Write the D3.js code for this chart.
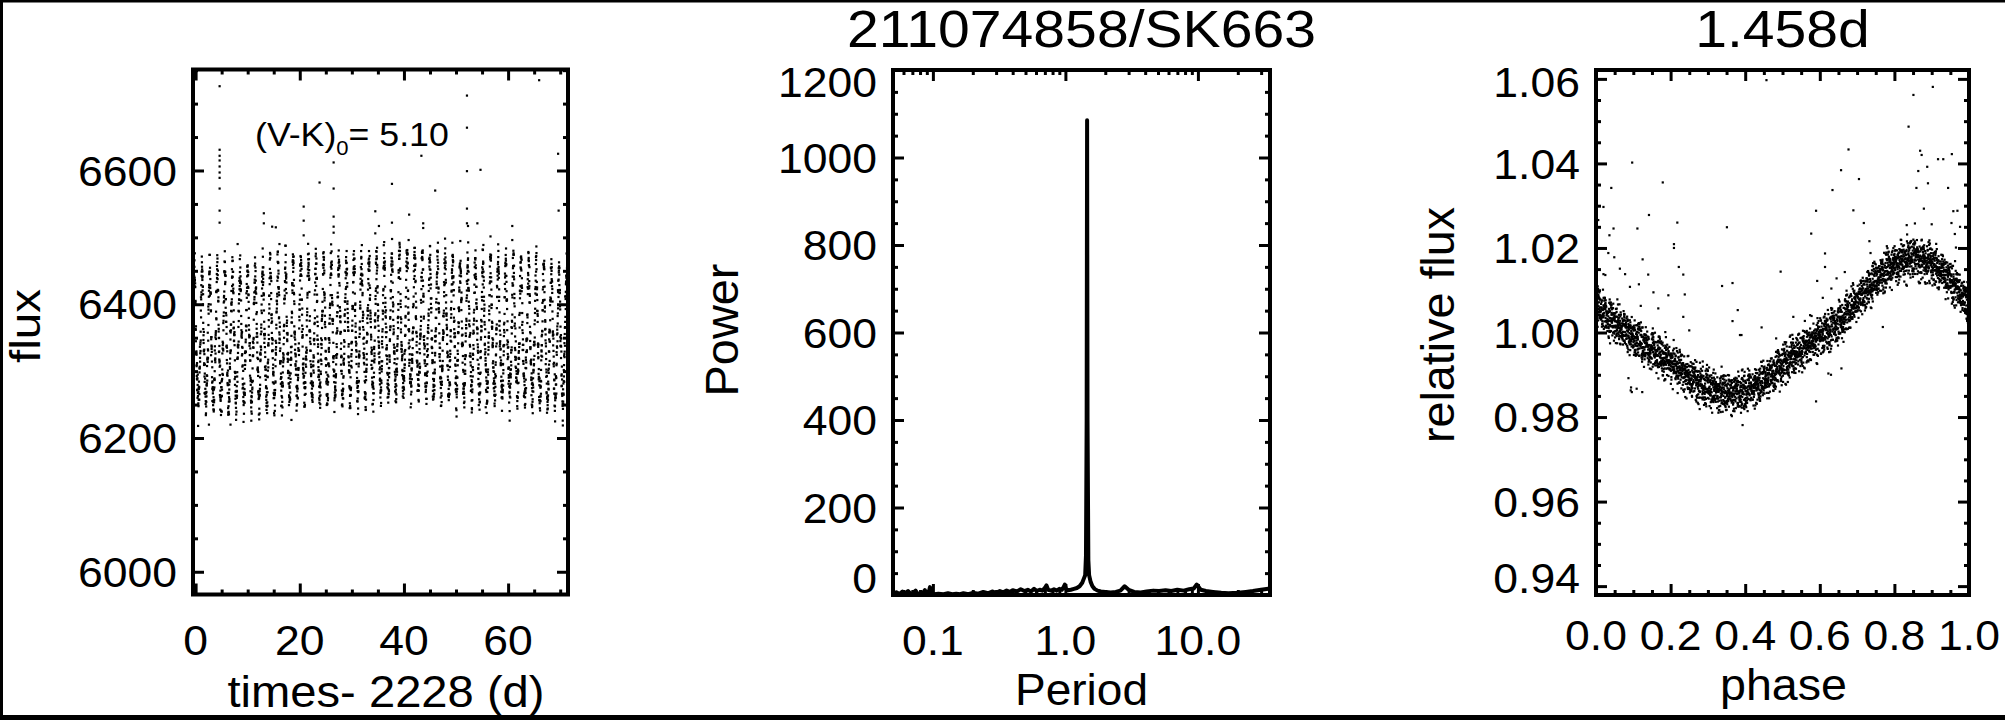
<!DOCTYPE html>
<html><head><meta charset="utf-8">
<script src="https://cdn.jsdelivr.net/npm/d3@7"></script>
<style>
body{margin:0;background:#fff}
text{font-family:"Liberation Sans",Arial,Helvetica,sans-serif;fill:#000}
</style>
</head><body>
<svg id="c" width="2005" height="720"></svg>
<script>
// ---------------- data ----------------
const rotPeriod = 1.458;          // days
const cadence = 0.02043;          // days (30 min)
const tFirst = -0.40, tLast = 71.40;
const lcTrendT = [0, 10, 20, 30, 40, 50, 60, 71];
const lcTrendF = [6338, 6345, 6350, 6356, 6360, 6358, 6352, 6342];
const tmplPhase = [0,0.05,0.1,0.15,0.2,0.25,0.3,0.35,0.4,0.45,0.5,0.55,0.6,0.65,0.7,0.75,0.8,0.85,0.9,0.95,1.0];
const tmplFlux  = [1.0064,1.0022,0.9990,0.9958,0.9930,0.9895,0.9868,0.9856,0.9860,0.9883,0.9923,0.9958,0.9990,1.0021,1.0076,1.0124,1.0163,1.0179,1.0163,1.0124,1.0064];
const residA = [0.4,-1.2,2.1,-0.3,1.5,-2.4,0.8,-0.6,1.9,-1.7,0.1,2.8,-0.9,-2.0,1.1,0.5,-1.4,3.1,-0.2,-2.9,1.3,0.7,-1.0,2.4,-0.5,-1.8,0.2,1.7,-2.6,0.9,-0.1,1.4,-1.5,2.2,-0.8,-0.4,3.4,-2.2,0.6,1.0,-1.1,-3.2,1.8,0.3,-0.7,2.6,-1.9,0.0,1.2,-2.5,0.9,-1.3,2.0,-0.6,1.6,-2.1,0.5,-3.0,2.3,-0.3,1.1];
const residB = [-0.8,1.9,-2.3,0.6,1.2,-0.4,2.7,-1.6,0.2,-1.1,1.5,-2.8,0.9,0.3,-1.9,2.2,-0.6,1.0,-0.2,-2.5,1.7,0.4,-1.3,2.9,-0.9,0.7,-1.7,1.3,-0.1,2.0,-2.1,0.8,-0.5,1.6,-3.1,0.5,-1.0];
// outliers
const lcOutT = [4.61,65.96,52.1,4.61,4.61,4.61,4.61,4.61,4.61,4.61,26.5,52.1,43.35,69.6,52.1,54.7,23.8,26.5,37.7,46.0,4.61,4.61,13.1,20.75,20.75,20.75,13.1,14.7,15.4,26.5,26.5,26.5,34.5,34.5,35.2,37.7,41.0,43.7,43.7,52.1,52.1,52.3,54.1,60.8,60.8,69.7,8.07,16.1,49.3,40.9,18.4,55.7,60.3,6.7,2.56];
const lcOutF = [6726,6735,6712,6631,6622,6615,6606,6597,6589,6573,6612,6664,6622,6625,6599,6601,6582,6573,6580,6570,6540,6522,6536,6546,6525,6503,6521,6516,6515,6516,6507,6531,6539,6506,6517,6522,6534,6521,6514,6543,6521,6517,6521,6517,6496,6540,6490,6490,6492,6496,6227,6246,6226,6220,6220];
// outliers
const phOutP = [0.457,0.851,0.903,0.838,0.097,0.677,0.869,0.873,0.954,0.917,0.931,0.657,0.888,0.864,0.179,0.705,0.041,0.859,0.89,0.944,0.634,0.02,0.59,0.69,0.879,0.958,0.969,0.142,0.718,0.218,0.006,0.833,0.855,0.9,0.953,0.976,0.351,0.111,0.047,0.577,0.036,0.733,0.962,0.209,0.209,0.033,0.614,0.736,0.049,0.125,0.222,0.965,0.614,0.064,0.495,0.667,0.234,0.02,0.025,0.14,0.078,0.645,0.366,0.338,0.593,0.631,0.115,0.091,0.154,0.194,0.238,0.608,0.38,0.12,0.167,0.529,0.366,0.234,0.444,0.386,0.39,0.483,0.25,0.574,0.578,0.769,0.658,0.623,0.63,0.59,0.096,0.109,0.124,0.087,0.093,0.094,0.393];
const phOutF = [1.0597,1.0562,1.0581,1.0487,1.0402,1.0433,1.0430,1.0420,1.0422,1.0410,1.0410,1.0384,1.0392,1.0382,1.0355,1.0363,1.0342,1.0342,1.0353,1.0342,1.0337,1.0297,1.0288,1.0289,1.0293,1.0287,1.0288,1.0278,1.0259,1.0260,1.0266,1.0254,1.0258,1.0256,1.0259,1.0250,1.0249,1.0246,1.0246,1.0234,1.0230,1.0216,1.0233,1.0209,1.0200,1.0188,1.0187,1.0188,1.0178,1.0173,1.0155,1.0201,1.0155,1.0151,1.0144,1.0143,1.0137,1.0138,1.0136,1.0137,1.0138,1.0128,1.0117,1.0110,1.0122,1.0104,1.0114,1.0108,1.0095,1.0088,1.0090,1.0082,1.0053,1.0063,1.0057,1.0037,1.0027,1.0037,1.0012,0.9994,0.9994,0.9986,1.0005,1.0041,1.0039,1.0013,0.9915,0.9903,0.9900,0.9837,0.9859,0.9867,0.9859,0.9892,0.9863,0.9870,0.9781];
// Lomb-Scargle periodogram
const pgPeriod = [0.050,0.053,0.056,0.059,0.062,0.065,0.068,0.071,0.074,0.077,0.080,0.083,0.087,0.090,0.093,0.095,0.098,0.102,0.11,0.12,0.13,0.14,0.15,0.16,0.17,0.185,0.2,0.22,0.24,0.26,0.28,0.30,0.32,0.34,0.36,0.38,0.40,0.43,0.46,0.49,0.52,0.55,0.58,0.61,0.64,0.67,0.70,0.72,0.74,0.78,0.82,0.86,0.90,0.94,0.97,0.99,1.01,1.05,1.10,1.16,1.22,1.28,1.34,1.38,1.41,1.43,1.447,1.458,1.469,1.49,1.51,1.55,1.60,1.66,1.75,1.85,2.0,2.2,2.4,2.6,2.8,3.0,3.3,3.7,4.1,4.6,5.1,5.7,6.3,7.0,7.8,8.6,9.3,9.8,10.5,11.5,13,15,17,20,23,26,30,35];
const pgPower  = [2,6,2,8,3,9,2,5,10,2,4,2,11,3,6,18,4,2,3,2,4,2,3,2,4,2,5,3,7,4,8,5,9,6,10,7,11,8,13,9,12,8,14,9,12,10,16,22,12,10,13,10,14,12,18,24,14,11,12,14,16,20,28,38,45,90,400,1085,400,80,45,30,20,14,10,8,7,6,7,10,20,12,7,6,8,10,9,11,9,12,10,13,15,24,12,9,7,5,4,5,7,9,12,15];
// axis ticks
const lcXMajor = [0,20,40,60], lcYMajor = [6000,6200,6400,6600];
const pgXMajor = [0.1,1,10], pgXLabels = ["0.1","1.0","10.0"], pgYMajor = [0,200,400,600,800,1000,1200];
const phXMajor = [0,0.2,0.4,0.6,0.8,1.0], phYMajor = [0.94,0.96,0.98,1.00,1.02,1.04,1.06];
const titleMid = "211074858/SK663", titleRight = "1.458d";

// ---------------- build series ----------------
const tmpl = d3.scaleLinear().domain(tmplPhase).range(tmplFlux);
const trend = d3.scaleLinear().domain(lcTrendT).range(lcTrendF).clamp(true);
const series = [];
const nPts = Math.floor((tLast - tFirst) / cadence);
for (let i = 0; i <= nPts; i++) {
  const t = tFirst + i * cadence;
  const ph = ((t / rotPeriod) % 1 + 1) % 1;
  const rel = tmpl(ph) + 0.001 * (residA[(i * 7) % residA.length] + residB[(i * 5) % residB.length]);
  series.push({t, ph, rel, flux: trend(t) * rel});
}

// ---------------- drawing ----------------
const svg = d3.select("#c");
const FS = 42, SX = 1.06;
svg.append("rect").attr("width",2005).attr("height",720).attr("fill","#fff");
svg.append("path").attr("d","M1.5,718 L1.5,1 L2005,1").attr("fill","none").attr("stroke","#000").attr("stroke-width",3);
svg.append("line").attr("x1",0).attr("x2",2005).attr("y1",717.5).attr("y2",717.5).attr("stroke","#000").attr("stroke-width",5);

function txt(x, y, s, o = {}) {
  const t = svg.append("text")
    .attr("transform", `translate(${x},${y})${o.rot ? " rotate(-90)" : ""} scale(${o.sx || 1},1)`)
    .attr("text-anchor", o.anchor || "middle").attr("font-size", o.fs || FS);
  if (o.dy) t.attr("dy", o.dy);
  if (o.len) t.attr("textLength", o.len).attr("lengthAdjust", "spacingAndGlyphs");
  t.text(s);
  return t;
}
function panel(b, x, y, xMaj, xMin, yMaj, yMin) {
  const g = svg.append("g");
  const tk = (axisFn, scale, vals, size, tr) => {
    const a = axisFn(scale).tickValues(vals).tickSize(size).tickFormat("");
    const gg = g.append("g").attr("transform", tr).call(a);
    gg.select(".domain").remove();
    gg.selectAll("line").attr("stroke","#000").attr("stroke-width",3);
  };
  [[xMaj,-11],[xMin,-5]].forEach(([v,s]) => {
    tk(d3.axisBottom, x, v, s, `translate(0,${b.y1})`);
    tk(d3.axisTop, x, v, s, `translate(0,${b.y0})`);
  });
  [[yMaj,-11],[yMin,-5]].forEach(([v,s]) => {
    tk(d3.axisLeft, y, v, s, `translate(${b.x0},0)`);
    tk(d3.axisRight, y, v, s, `translate(${b.x1},0)`);
  });
  return g;
}
function frame(b) {
  svg.append("rect").attr("x",b.x0).attr("y",b.y0).attr("width",b.x1-b.x0).attr("height",b.y1-b.y0)
    .attr("fill","none").attr("stroke","#000").attr("stroke-width",4);
}
function yLabels(b, y, vals, fmt) {
  vals.forEach(d => txt(b.x0 - 16, Math.max(b.y0 + 12, Math.min(b.y1 - 17, y(d))), fmt(d), {anchor:"end", dy:"0.36em", sx:SX}));
}
function xLabels(x, vals, fmt, base) {
  vals.forEach((d,i) => txt(x(d), base, fmt(d,i), {sx:SX}));
}
function dots(g, data, fx, fy) {
  g.append("g").selectAll("rect").data(data).join("rect")
    .attr("x", d => fx(d) - 1.1).attr("y", d => fy(d) - 1.1).attr("width",2.2).attr("height",2.2).attr("fill","#000");
}

// ---- left: light curve ----
const bL = {x0:193, x1:568, y0:69.5, y1:594.5};
const xL = d3.scaleLinear().domain([-0.5, 71.5]).range([bL.x0, bL.x1]);
const yL = d3.scaleLinear().domain([5966, 6751]).range([bL.y1, bL.y0]);
panel(bL, xL, yL, lcXMajor, d3.range(5, 71, 5).filter(v => v % 20), lcYMajor, d3.range(6000, 6751, 50).filter(v => v % 200));
const cL = svg.append("g");
dots(cL, series, d => xL(d.t), d => yL(d.flux));
dots(cL, lcOutT.map((t,i) => ({t, f: lcOutF[i]})), d => xL(d.t), d => yL(d.f));
frame(bL);
yLabels(bL, yL, lcYMajor, d => d);
xLabels(xL, lcXMajor, d => d, 655);
txt(386, 707, "times- 2228 (d)", {fs:44, len:317});
txt(40, 326, "flux", {fs:43, rot:true, len:74});
const ann = svg.append("text").attr("transform","translate(255,146) scale(1.05,1)").attr("font-size",34);
ann.append("tspan").text("(V-K)");
ann.append("tspan").attr("font-size",21).attr("dy",9).text("0");
ann.append("tspan").attr("dy",-9).text("= 5.10");

// ---- middle: periodogram ----
const bM = {x0:893, x1:1270, y0:70, y1:595};
const xM = d3.scaleLog().domain([0.05, 35]).range([bM.x0, bM.x1]);
const yM = d3.scaleLinear().domain([0, 1200]).range([bM.y1, bM.y0]);
const minorsM = [];
[0.01,0.1,1,10].forEach(dec => { for (let k = 2; k <= 9; k++) { const v = dec*k; if (v > 0.05 && v < 35) minorsM.push(v); } });
panel(bM, xM, yM, pgXMajor, minorsM, pgYMajor, d3.range(50, 1200, 50).filter(v => v % 200));
const lineM = d3.line().x((d,i) => xM(pgPeriod[i])).y((d,i) => yM(pgPower[i]));
svg.append("path").attr("d", lineM(pgPower)).attr("fill","none").attr("stroke","#000").attr("stroke-width",4).attr("stroke-linejoin","round");
frame(bM);
yLabels(bM, yM, pgYMajor, d => d);
xLabels(xM, pgXMajor, (d,i) => pgXLabels[i], 655);
txt(1081.5, 705, "Period", {fs:44, len:133});
txt(738, 330, "Power", {fs:46, rot:true, len:133});
txt((bM.x0+bM.x1)/2, 47, titleMid, {fs:51, sx:1.12});

// ---- right: phase-folded ----
const bR = {x0:1596, x1:1969, y0:70, y1:595};
const xR = d3.scaleLinear().domain([0, 1]).range([bR.x0, bR.x1]);
const yR = d3.scaleLinear().domain([0.9379, 1.0621]).range([bR.y1, bR.y0]);
panel(bR, xR, yR, phXMajor, d3.range(0.05, 1, 0.05).filter((v,i) => (i+1) % 4), phYMajor, d3.range(0.94, 1.061, 0.005).filter((v,i) => i % 4));
const cR = svg.append("g");
dots(cR, series, d => xR(d.ph), d => yR(d.rel));
dots(cR, phOutP.map((p,i) => ({p, f: phOutF[i]})), d => xR(d.p), d => yR(d.f));
frame(bR);
yLabels(bR, yR, phYMajor, d => d.toFixed(2));
xLabels(xR, phXMajor, d => d.toFixed(1), 650);
txt(1783.5, 700, "phase", {fs:44, len:127});
txt(1454, 325, "relative flux", {fs:46, rot:true, len:236});
txt((bR.x0+bR.x1)/2, 47, titleRight, {fs:51, sx:1.12});
</script>
</body></html>
